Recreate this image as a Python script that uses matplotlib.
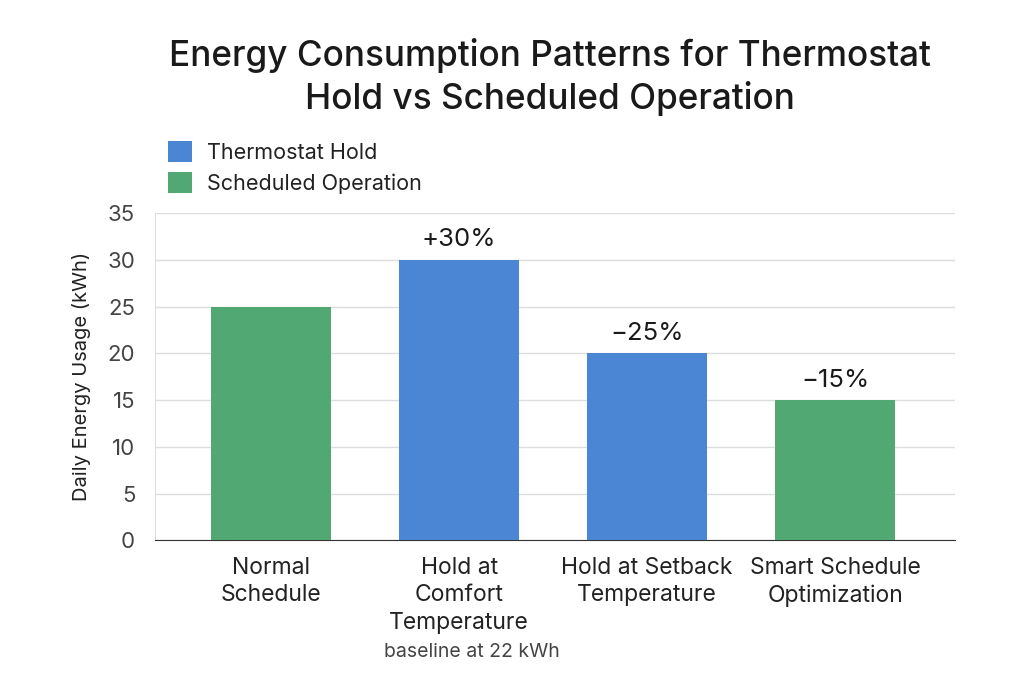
import matplotlib.pyplot as plt
from matplotlib.patches import Patch

plt.rcParams['font.family'] = ['Inter', 'DejaVu Sans']

# Data
categories = ["Normal\nSchedule", "Hold at\nComfort\nTemperature",
              "Hold at Setback\nTemperature", "Smart Schedule\nOptimization"]
usage = [25, 30, 20, 15]
kind = ["Scheduled Operation", "Thermostat Hold", "Thermostat Hold", "Scheduled Operation"]
labels = ["", "+30%", "\u221225%", "\u221215%"]
yticks = [0, 5, 10, 15, 20, 25, 30, 35]

colors = {"Thermostat Hold": "#4a86d4", "Scheduled Operation": "#52a873"}

fig = plt.figure(figsize=(10.24, 6.83), dpi=100)
ax = fig.add_axes([0.151, 0.209, 0.782, 0.479])

x = range(len(categories))
bars = ax.bar(x, usage, width=0.64, color=[colors[k] for k in kind], zorder=3)

for b, lab in zip(bars, labels):
    if lab:
        ax.text(b.get_x() + b.get_width() / 2, b.get_height() + 0.9, lab,
                ha="center", va="bottom", fontsize=18.5, color="#1a1a1a")

ax.set_xlim(-0.62, 3.64)
ax.set_ylim(0, 35)
ax.set_yticks(yticks)
ax.set_xticks(list(x))
ax.set_xticklabels(categories, fontsize=16.5, color="#222222", linespacing=1.32)
ax.tick_params(axis="y", labelsize=16, labelcolor="#444444", length=0, pad=14)
ax.tick_params(axis="x", length=0, pad=12)
ax.yaxis.grid(True, color="#dddddd", linewidth=1, zorder=0)
for s in ["top", "right"]:
    ax.spines[s].set_visible(False)
ax.spines["left"].set_color("#dddddd")
ax.spines["bottom"].set_color("#333333")
ax.set_ylabel("Daily Energy Usage (kWh)", fontsize=14.5, color="#222222", labelpad=12)

ax.text(1.07, -0.315, "baseline at 22 kWh", transform=ax.get_xaxis_transform(),
        ha="center", va="top", fontsize=14, color="#444444")

fig.text(0.537, 0.887, "Energy Consumption Patterns for Thermostat\nHold vs Scheduled Operation",
         ha="center", va="center", fontsize=25.3, fontweight="medium", color="#1a1a1a",
         linespacing=1.3)

handles = [Patch(facecolor=colors["Thermostat Hold"], label="Thermostat Hold"),
           Patch(facecolor=colors["Scheduled Operation"], label="Scheduled Operation")]
fig.legend(handles=handles, loc="upper left", bbox_to_anchor=(0.145, 0.822), frameon=False,
           fontsize=15.5, handlelength=1.1, handleheight=1.1, handletextpad=0.7,
           labelspacing=0.45, labelcolor="#222222")

fig.savefig("out.png", dpi=100, facecolor="white")
